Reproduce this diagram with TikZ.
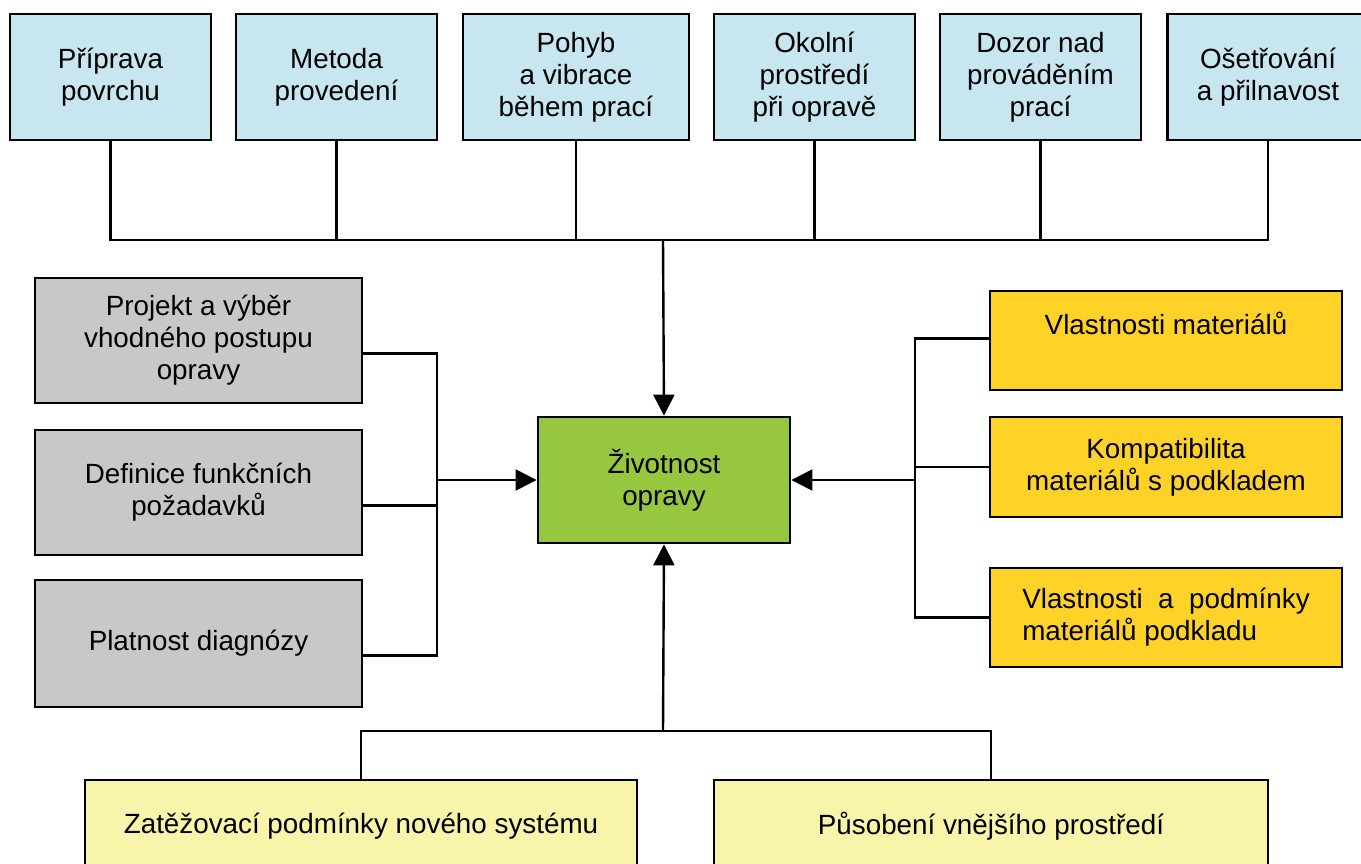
\documentclass[tikz,border=0pt]{standalone}
\usepackage{fontspec}
\setmainfont{Liberation Sans}
\usetikzlibrary{arrows.meta}
\definecolor{cblue}{RGB}{200,230,240}
\definecolor{cgray}{RGB}{200,200,200}
\definecolor{cgreen}{RGB}{150,199,62}
\definecolor{cyel}{RGB}{255,210,40}
\definecolor{cpale}{RGB}{248,244,170}
\begin{document}
\begin{tikzpicture}[x=1pt,y=-1pt,
  box/.style={draw=black,line width=2.8pt,align=center,inner sep=0pt,
    font=\fontsize{27.8}{32}\selectfont},
  topbox/.style={box,fill=cblue,minimum width=201pt,minimum height=126pt},
  graybox/.style={box,fill=cgray,minimum width=327pt,minimum height=125pt},
  ybox/.style={box,fill=cyel,minimum width=352pt,minimum height=100pt},
  pbox/.style={box,fill=cpale,minimum height=92pt},
  cbox/.style={box,fill=cgreen,minimum width=252pt,minimum height=126pt},
  conn/.style={line width=2.4pt},
  arr/.style={conn,-{Triangle[length=21pt,width=21pt]}}]
\useasboundingbox (0,0) rectangle (1361,863);
\clip (0,0) rectangle (1361,863);
\fill[white] (0,0) rectangle (1361,863);
% top boxes
\node[topbox] (t1) at (110.5,77) {Příprava\\povrchu};
\node[topbox] (t2) at (336.5,77) {Metoda\\provedení};
\node[topbox,minimum width=226pt] (t3) at (576,77) {Pohyb\\a vibrace\\během prací};
\node[topbox] (t4) at (814.5,77) {Okolní\\prostředí\\při opravě};
\node[topbox] (t5) at (1040.5,77) {Dozor nad\\prováděním\\prací};
\node[topbox] (t6) at (1268,77) {Ošetřování\\a přilnavost};
% centre
\node[cbox] (c) at (664,480) {Životnost\\opravy};
% left boxes
\node[graybox] (g1) at (198.5,340.5) {Projekt a výběr\\vhodného postupu\\opravy};
\node[graybox] (g2) at (198.5,492.5) {Definice funkčních\\požadavků};
\node[graybox,minimum height=127pt] (g3) at (198.5,643.5) {Platnost diagnózy};
% right boxes
\node[ybox,minimum height=99pt] (y1) at (1166,340.5) {Vlastnosti materiálů\\[2pt]};
\node[ybox] (y2) at (1166,467) {Kompatibilita\\materiálů s podkladem};
\node[ybox,minimum height=99pt,align=left] (y3) at (1166,617.5) {Vlastnosti\ \ a\ \ podmínky\\materiálů podkladu};
% bottom boxes
\node[pbox,minimum width=552pt] (b1) at (361,826) {Zatěžovací podmínky nového systému};
\node[pbox,minimum width=554pt] (b2) at (991,826) {Působení vnějšího prostředí};
% coordinates
\coordinate (topbus) at (663,240);
\coordinate (lbus) at (437,480);
\coordinate (rbus) at (915,480);
\coordinate (bbus) at (663,731);
% top connectors
\draw[conn] (t1.south) |- (topbus) -| (t6.south);
\foreach \n in {t2,t3,t4,t5} \draw[conn] (\n.south) -- (\n.south |- topbus);
\draw[arr] (topbus) -- (c.north);
% left connectors
\draw[conn] ([yshift=-13pt]g1.east) -| (lbus);
\draw[conn] ([yshift=-12pt]g3.east) -| (lbus);
\draw[conn] ([yshift=-13pt]g2.east) -- ([yshift=-13pt]g2.east -| lbus);
\draw[arr] (lbus) -- (c.west);
% right connectors
\draw[conn] ([yshift=2pt]y1.west) -| (rbus);
\draw[conn] (y3.west) -| (rbus);
\draw[conn] (y2.west) -- (y2.west -| rbus);
\draw[arr] (rbus) -- (c.east);
% bottom connectors
\draw[conn] (b1.north) |- (bbus) -| (b2.north);
\draw[arr] (bbus) -- (c.south);
\end{tikzpicture}
\end{document}
